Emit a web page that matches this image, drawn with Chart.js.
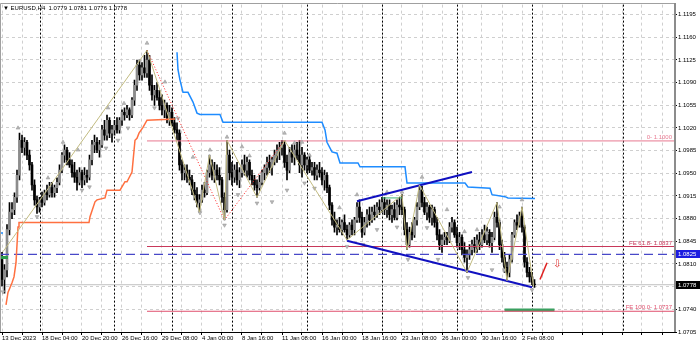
<!DOCTYPE html>
<html>
<head>
<meta charset="utf-8">
<script src="https://cdn.jsdelivr.net/npm/chart.js@4.4.1/dist/chart.umd.min.js"></script>
<style>
  html, body { margin: 0; padding: 0; background: #fff; }
  canvas { display: block; }
</style>
</head>
<body>
<canvas id="chart" width="700" height="343"></canvas>
<script>
// EURUSD H4, one entry per bar (bar index 0 = 13 Dec 2023 12:00)
const opens = [
  1.0817,1.0786,1.0801,1.0863,1.0890,1.0894,1.0913,1.0947,1.1001,1.0990,
  1.0998,1.0978,1.0963,1.0932,1.0909,1.0898,1.0909,1.0905,1.0920,1.0917,
  1.0928,1.0920,1.0928,1.0936,1.0955,1.0978,1.0986,1.0971,1.0963,1.0951,
  1.0944,1.0936,1.0951,1.0940,1.0947,1.0944,1.0971,1.0994,1.0998,1.0986,
  1.0994,1.1017,1.1009,1.1032,1.1012,1.1017,1.1024,1.1017,1.1032,1.1044,
  1.1040,1.1048,1.1040,1.1063,1.1086,1.1117,1.1102,1.1113,1.1105,1.1125,
  1.1086,1.1071,1.1078,1.1067,1.1055,1.1048,1.1055,1.1036,1.1044,1.1028,
  1.1017,1.1012,1.0963,1.0951,1.0955,1.0944,1.0940,1.0924,1.0917,1.0905,
  1.0909,1.0924,1.0920,1.0951,1.0963,1.0947,1.0955,1.0947,1.0940,1.0913,
  1.0894,1.0978,1.0951,1.0944,1.0955,1.0940,1.0951,1.0963,1.0955,1.0967,
  1.0947,1.0940,1.0932,1.0928,1.0936,1.0951,1.0959,1.0967,1.0959,1.0971,
  1.0978,1.0986,1.0990,1.0994,1.0967,1.0955,1.0982,1.0975,1.0986,1.0978,
  1.0963,1.0978,1.0963,1.0971,1.0955,1.0959,1.0947,1.0955,1.0951,1.0940,
  1.0947,1.0928,1.0901,1.0878,1.0867,1.0870,1.0863,1.0874,1.0863,1.0855,
  1.0870,1.0863,1.0878,1.0898,1.0882,1.0859,1.0874,1.0886,1.0878,1.0890,
  1.0886,1.0898,1.0894,1.0905,1.0894,1.0901,1.0886,1.0894,1.0882,1.0901,
  1.0898,1.0894,1.0863,1.0840,1.0859,1.0855,1.0878,1.0898,1.0924,1.0905,
  1.0890,1.0898,1.0882,1.0894,1.0874,1.0855,1.0840,1.0847,1.0851,1.0847,
  1.0867,1.0874,1.0855,1.0843,1.0851,1.0832,1.0820,1.0824,1.0832,1.0840,
  1.0836,1.0847,1.0840,1.0855,1.0847,1.0859,1.0843,1.0851,1.0882,1.0874,
  1.0840,1.0820,1.0805,1.0797,1.0817,1.0855,1.0874,1.0870,1.0884,1.0867,
  1.0813,1.0797,1.0790,1.0779
];
const highs = [
  1.0828,1.0809,1.0871,1.0905,1.0905,1.0920,1.0955,1.1012,1.1009,1.1005,
  1.1001,1.0986,1.0967,1.0940,1.0915,1.0913,1.0921,1.0924,1.0932,1.0936,
  1.0936,1.0932,1.0943,1.0963,1.0982,1.0994,1.0990,1.0982,1.0971,1.0967,
  1.0955,1.0959,1.0955,1.0959,1.0955,1.0978,1.1001,1.1009,1.1005,1.1001,
  1.1024,1.1032,1.1040,1.1036,1.1024,1.1032,1.1036,1.1036,1.1048,1.1051,
  1.1055,1.1051,1.1067,1.1094,1.1125,1.1125,1.1121,1.1132,1.1140,1.1132,
  1.1102,1.1086,1.1090,1.1078,1.1071,1.1063,1.1059,1.1055,1.1051,1.1036,
  1.1028,1.1017,1.0971,1.0963,1.0963,1.0955,1.0947,1.0936,1.0928,1.0917,
  1.0932,1.0936,1.0955,1.0978,1.0971,1.0967,1.0963,1.0959,1.0944,1.0920,
  1.1001,1.0986,1.0967,1.0963,1.0967,1.0959,1.0971,1.0978,1.0975,1.0971,
  1.0955,1.0947,1.0940,1.0947,1.0955,1.0963,1.0975,1.0978,1.0975,1.0986,
  1.0994,1.0998,1.1001,1.1001,1.0978,1.0990,1.0994,1.0994,1.0998,1.1001,
  1.0990,1.0982,1.0975,1.0978,1.0967,1.0967,1.0963,1.0967,1.0959,1.0955,
  1.0951,1.0932,1.0905,1.0890,1.0878,1.0882,1.0878,1.0886,1.0870,1.0874,
  1.0878,1.0882,1.0905,1.0909,1.0890,1.0882,1.0894,1.0898,1.0898,1.0901,
  1.0905,1.0909,1.0913,1.0913,1.0909,1.0909,1.0901,1.0905,1.0909,1.0913,
  1.0917,1.0898,1.0874,1.0867,1.0874,1.0882,1.0905,1.0932,1.0930,1.0913,
  1.0905,1.0901,1.0901,1.0898,1.0882,1.0863,1.0855,1.0859,1.0859,1.0874,
  1.0882,1.0878,1.0867,1.0859,1.0855,1.0843,1.0832,1.0840,1.0847,1.0851,
  1.0855,1.0859,1.0863,1.0870,1.0867,1.0863,1.0859,1.0890,1.0905,1.0878,
  1.0847,1.0828,1.0813,1.0824,1.0859,1.0878,1.0886,1.0890,1.0898,1.0870,
  1.0820,1.0805,1.0797,1.0786
];
const lows = [
  1.0776,1.0765,1.0790,1.0855,1.0880,1.0886,1.0905,1.0940,1.0982,1.0978,
  1.0971,1.0955,1.0924,1.0901,1.0888,1.0890,1.0898,1.0901,1.0909,1.0913,
  1.0913,1.0913,1.0920,1.0932,1.0951,1.0967,1.0963,1.0959,1.0944,1.0936,
  1.0924,1.0932,1.0928,1.0932,1.0936,1.0940,1.0963,1.0982,1.0982,1.0975,
  1.0990,1.1001,1.1001,1.1005,1.0998,1.1009,1.1012,1.1012,1.1024,1.1032,
  1.1036,1.1032,1.1036,1.1055,1.1078,1.1094,1.1094,1.1098,1.1098,1.1078,
  1.1063,1.1055,1.1063,1.1048,1.1040,1.1036,1.1028,1.1024,1.1024,1.1012,
  1.1001,1.0955,1.0940,1.0940,1.0936,1.0932,1.0917,1.0909,1.0898,1.0890,
  1.0905,1.0913,1.0917,1.0944,1.0940,1.0936,1.0940,1.0932,1.0905,1.0878,
  1.0890,1.0940,1.0932,1.0936,1.0932,1.0928,1.0944,1.0947,1.0944,1.0940,
  1.0932,1.0924,1.0913,1.0924,1.0932,1.0940,1.0947,1.0951,1.0947,1.0963,
  1.0967,1.0971,1.0978,1.0959,1.0940,1.0951,1.0967,1.0963,1.0971,1.0951,
  1.0944,1.0955,1.0951,1.0951,1.0947,1.0940,1.0940,1.0944,1.0932,1.0924,
  1.0920,1.0894,1.0870,1.0859,1.0855,1.0859,1.0855,1.0859,1.0847,1.0851,
  1.0855,1.0855,1.0874,1.0874,1.0851,1.0855,1.0867,1.0870,1.0874,1.0878,
  1.0882,1.0886,1.0890,1.0886,1.0882,1.0878,1.0874,1.0878,1.0878,1.0886,
  1.0886,1.0855,1.0832,1.0836,1.0847,1.0851,1.0870,1.0894,1.0898,1.0886,
  1.0878,1.0874,1.0870,1.0867,1.0847,1.0832,1.0828,1.0840,1.0840,1.0843,
  1.0859,1.0851,1.0836,1.0832,1.0824,1.0813,1.0797,1.0817,1.0824,1.0828,
  1.0828,1.0832,1.0836,1.0843,1.0840,1.0836,1.0828,1.0847,1.0867,1.0832,
  1.0813,1.0797,1.0784,1.0790,1.0813,1.0851,1.0863,1.0867,1.0859,1.0805,
  1.0790,1.0782,1.0778,1.0774
];
const closes = [
  1.0786,1.0801,1.0863,1.0890,1.0894,1.0913,1.0947,1.1001,1.0990,1.0998,
  1.0978,1.0963,1.0932,1.0909,1.0898,1.0909,1.0905,1.0920,1.0917,1.0928,
  1.0920,1.0928,1.0936,1.0955,1.0978,1.0986,1.0971,1.0963,1.0951,1.0944,
  1.0936,1.0951,1.0940,1.0947,1.0944,1.0971,1.0994,1.0998,1.0986,1.0994,
  1.1017,1.1009,1.1032,1.1012,1.1017,1.1024,1.1017,1.1032,1.1044,1.1040,
  1.1048,1.1040,1.1063,1.1086,1.1117,1.1102,1.1113,1.1105,1.1125,1.1086,
  1.1071,1.1078,1.1067,1.1055,1.1048,1.1055,1.1036,1.1044,1.1028,1.1017,
  1.1012,1.0963,1.0951,1.0955,1.0944,1.0940,1.0924,1.0917,1.0905,1.0909,
  1.0924,1.0920,1.0951,1.0963,1.0947,1.0955,1.0947,1.0940,1.0913,1.0894,
  1.0978,1.0951,1.0944,1.0955,1.0940,1.0951,1.0963,1.0955,1.0967,1.0947,
  1.0940,1.0932,1.0928,1.0936,1.0951,1.0959,1.0967,1.0959,1.0971,1.0978,
  1.0986,1.0990,1.0994,1.0967,1.0955,1.0982,1.0975,1.0986,1.0978,1.0963,
  1.0978,1.0963,1.0971,1.0955,1.0959,1.0947,1.0955,1.0951,1.0940,1.0947,
  1.0928,1.0901,1.0878,1.0867,1.0870,1.0863,1.0874,1.0863,1.0855,1.0870,
  1.0863,1.0878,1.0898,1.0882,1.0859,1.0874,1.0886,1.0878,1.0890,1.0886,
  1.0898,1.0894,1.0905,1.0894,1.0901,1.0886,1.0894,1.0882,1.0901,1.0898,
  1.0894,1.0863,1.0840,1.0859,1.0855,1.0878,1.0898,1.0924,1.0905,1.0890,
  1.0898,1.0882,1.0894,1.0874,1.0855,1.0840,1.0847,1.0851,1.0847,1.0867,
  1.0874,1.0855,1.0843,1.0851,1.0832,1.0820,1.0824,1.0832,1.0840,1.0836,
  1.0847,1.0840,1.0855,1.0847,1.0859,1.0843,1.0851,1.0882,1.0874,1.0840,
  1.0820,1.0805,1.0797,1.0817,1.0855,1.0874,1.0870,1.0884,1.0867,1.0813,
  1.0797,1.0790,1.0782,1.0778
];

// price axis and time axis
const yTicks = [1.0705,1.0740,1.0775,1.0810,1.0845,1.0880,1.0915,1.0950,1.0985,1.1020,1.1055,1.1090,1.1125,1.1160,1.1195];
const xLabelIdx = [0,16,32,48,64,80,96,112,128,144,160,176,192,208];
const xLabelText = ['13 Dec 2023','18 Dec 04:00','20 Dec 20:00','26 Dec 16:00','29 Dec 08:00','4 Jan 00:00','8 Jan 16:00',
  '11 Jan 08:00','16 Jan 00:00','18 Jan 16:00','23 Jan 08:00','26 Jan 00:00','30 Jan 16:00','2 Feb 08:00'];
const gridIdx = [0,8,16,24,32,40,48,56,64,72,80,88,96,104,112,120,128,136,144,152,160,168,176,184,192,200,208,216,224,232,240,248,256,264];
const weekStarts = [15,45,68,92,122,152,182,212,248.4];

// indicator lines (bar index, price)
const orangeIdx = [1.6,2.4,4,4.8,5.6,6.4,6.8,34.8,35.2,37.2,38,41.2,42,47.2,49.2,50,52,53.2,54,54.8,56.4,58,69.2];
const orangeVal = [1.0747,1.0766,1.0781,1.0790,1.0812,1.0867,1.0874,1.0874,1.0883,1.0906,1.0909,1.0912,1.0924,1.0924,1.0937,1.0937,1.0952,1.1001,1.1004,1.1012,1.1021,1.1032,1.1034];
const blueIdx = [70,70.4,71.2,72.4,74.4,76.4,78,79.2,87.2,88.4,128,129.2,130,132,134,135.2,142.4,143.2,161.2,162,185.2,186.4,195.2,196,201.2,202.4,213.2];
const blueVal = [1.1137,1.1110,1.1094,1.1075,1.1075,1.1060,1.1043,1.1041,1.1041,1.1029,1.1029,1.1017,1.0998,1.0983,1.0981,1.0966,1.0966,1.0960,1.0960,1.0935,1.0935,1.0929,1.0927,1.0917,1.0914,1.0912,1.0911];
const zigIdx = [0.4,58,79,83,89,90,102,113,138,160,162,167,186,198,202,208,212.6];
const zigVal = [1.0829,1.1140,1.0890,1.0978,1.0878,1.1001,1.0913,1.1001,1.0847,1.0917,1.0832,1.0932,1.0797,1.0905,1.0784,1.0898,1.0776];
const redZigIdx = [58,89,113];
const redZigVal = [1.1140,1.0878,1.1001];
const chanUpIdx = [142,188], chanUpVal = [1.0907,1.0952];
const chanLoIdx = [138,212], chanLoVal = [1.0846,1.0774];

// fractal arrows
const upFracIdx = [6.4,18.4,24.4,30.4,42.4,48.8,58,65.2,76.4,83.2,90,96,99,113,117,120,123,135,142,154,160,168,178,185,190,194,199,208];
const upFracVal = [1.1020,1.0943,1.0998,1.0986,1.1051,1.1058,1.1151,1.1091,1.0975,1.0986,1.1006,1.0991,1.0977,1.1012,1.0997,1.0998,1.0978,1.0897,1.0917,1.0921,1.0921,1.0944,1.0894,1.0860,1.0863,1.0858,1.0898,1.0909];
const dnFracIdx = [0.4,14,32,35,41.6,46.4,50.4,61,70.4,79.2,89,94.4,102,108,114,121,125,138,144.4,150,158,162.4,170,174.4,186.4,196,201,212];
const dnFracVal = [1.0767,1.0883,1.0924,1.0929,1.0989,1.1001,1.1020,1.1051,1.1035,1.0889,1.0870,1.0917,1.0904,1.0906,1.0924,1.0935,1.0927,1.0837,1.0840,1.0863,1.0867,1.0817,1.0866,1.0817,1.0789,1.0801,1.0801,1.0770];

// horizontal levels
const levelNames = ['0- 1.1000','FE 61.8- 1.0837','FE 100.0- 1.0737'];
const levelValues = [1.1000, 1.0837, 1.0737];
const levelColors = ['#e87890', '#c8385a', '#e0506e'];
const levelStart = 58;
const markedLevel = 1.0825;
const lastPrice = 1.0778;

const X_MIN = -0.8, X_MAX = 268.8;
const FONT = "'Liberation Sans', Arial, sans-serif";

function pts(xs, ys) {
  return xs.map((v, k) => ({ x: v, y: ys[k] }));
}

function lineSet(data, color, width, extra) {
  return Object.assign({
    type: 'line', data: data, borderColor: color, borderWidth: width,
    pointRadius: 0, pointHoverRadius: 0, tension: 0, fill: false, order: 2
  }, extra || {});
}

const wicks = opens.map((o, i) => ({ x: i, y: [lows[i], highs[i]] }));
const bodies = opens.map((o, i) => ({ x: i, y: [o, closes[i]] }));
const bodyColors = opens.map((o, i) => closes[i] >= o ? '#8c8c8c' : '#000000');

const extras = {
  id: 'extras',
  beforeDatasetsDraw(chart) {
    const { ctx, chartArea: a, scales: { x } } = chart;
    ctx.save();
    ctx.strokeStyle = '#000';
    ctx.lineWidth = 1;
    ctx.setLineDash([2, 2]);
    weekStarts.forEach(i => {
      const px = Math.round(x.getPixelForValue(i)) + 0.5;
      ctx.beginPath();
      ctx.moveTo(px, a.top);
      ctx.lineTo(px, a.bottom);
      ctx.stroke();
    });
    ctx.restore();
  },
  afterDraw(chart) {
    const { ctx, chartArea: a, scales: { x, y } } = chart;
    ctx.save();
    ctx.font = '6px ' + FONT;

    // level captions
    ctx.textAlign = 'right';
    levelValues.forEach((v, k) => {
      ctx.fillStyle = levelColors[k];
      ctx.fillText(levelNames[k], a.right - 2, y.getPixelForValue(v) - 2);
    });

    // symbol line
    ctx.textAlign = 'left';
    ctx.fillStyle = '#000';
    ctx.fillText('\u25BC EURUSD,H4  1.0779 1.0781 1.0776 1.0778', 3, 10);

    // red hollow arrow
    ctx.fillStyle = '#e03030';
    ctx.font = '10px "DejaVu Sans"';
    ctx.fillText('\u21E9', x.getPixelForValue(220.4), y.getPixelForValue(1.0812) + 4);

    // frame
    ctx.strokeStyle = '#a0a0a0';
    ctx.lineWidth = 1;
    ctx.beginPath();
    ctx.moveTo(0.5, a.bottom);
    ctx.lineTo(0.5, 3.5);
    ctx.lineTo(a.right, 3.5);
    ctx.stroke();
    ctx.strokeStyle = '#8c8c8c';
    ctx.lineWidth = 2;
    ctx.beginPath();
    ctx.moveTo(a.right + 1, 3);
    ctx.lineTo(a.right + 1, a.bottom);
    ctx.stroke();

    // price boxes on the axis
    ctx.font = '6px ' + FONT;
    ctx.textBaseline = 'middle';
    [[markedLevel, '#1c1ce0'], [lastPrice, '#000']].forEach(([v, c]) => {
      const py = Math.round(y.getPixelForValue(v));
      ctx.fillStyle = c;
      ctx.fillRect(a.right + 2, py - 4, 26, 8);
      ctx.fillStyle = '#fff';
      ctx.fillText(v.toFixed(4), a.right + 4, py + 0.5);
    });
    ctx.restore();
  }
};

new Chart(document.getElementById('chart'), {
  type: 'bar',
  data: {
    datasets: [
      { type: 'bar', data: wicks, backgroundColor: '#000', barThickness: 1, grouped: false, order: 20 },
      { type: 'bar', data: bodies, backgroundColor: bodyColors, barThickness: 2, grouped: false, order: 19 },
      lineSet(pts(orangeIdx, orangeVal), '#ff7040', 1.5),
      lineSet(pts(blueIdx, blueVal), '#1e8cff', 1.5),
      lineSet(pts([X_MIN, 0.4], [1.0858, 1.0858]), '#1e8cff', 1.5),
      lineSet(pts([levelStart, X_MAX], [levelValues[0], levelValues[0]]), levelColors[0], 1),
      lineSet(pts([levelStart, X_MAX], [levelValues[1], levelValues[1]]), levelColors[1], 1),
      lineSet(pts([levelStart, X_MAX], [levelValues[2], levelValues[2]]), levelColors[2], 1),
      lineSet(pts([X_MIN, X_MAX], [markedLevel, markedLevel]), '#4848c8', 1.2, { borderDash: [9, 5] }),
      lineSet(pts([X_MIN, X_MAX], [lastPrice, lastPrice]), '#c0c0c0', 1, { order: 21 }),
      lineSet(pts([X_MIN, 2.4], [1.0820, 1.0820]), '#2e9e4e', 3),
      lineSet(pts([201, 221], [1.0739, 1.0739]), '#3aa060', 3),
      lineSet(pts([152, 160], [1.0912, 1.0912]), '#3cb371', 1),
      lineSet(pts(zigIdx, zigVal), '#c2bb80', 1, { order: 1 }),
      lineSet(pts(redZigIdx, redZigVal), '#ff2020', 1, { borderDash: [1, 2], order: 1 }),
      lineSet(pts(chanUpIdx, chanUpVal), '#1010c0', 2, { order: 1 }),
      lineSet(pts(chanLoIdx, chanLoVal), '#1010c0', 2, { order: 1 }),
      lineSet(pts([215.2, 218], [1.0786, 1.0812]), '#e02020', 1.5, { order: 1 }),
      lineSet(pts(upFracIdx, upFracVal), '#a0a0a0', 0, {
        showLine: false, pointRadius: 2.2, pointHoverRadius: 2.2, pointStyle: 'triangle', pointBackgroundColor: '#b8b8b8',
        pointBorderColor: '#909090', pointBorderWidth: 0.5, order: 1 }),
      lineSet(pts(dnFracIdx, dnFracVal), '#a0a0a0', 0, {
        showLine: false, pointRadius: 2.2, pointHoverRadius: 2.2, pointStyle: 'triangle', pointRotation: 180, pointBackgroundColor: '#b8b8b8',
        pointBorderColor: '#909090', pointBorderWidth: 0.5, order: 1 })
    ]
  },
  options: {
    responsive: false,
    animation: false,
    events: [],
    layout: { autoPadding: false, padding: { top: 4, left: 0, right: 0, bottom: 0 } },
    plugins: { legend: { display: false }, tooltip: { enabled: false } },
    scales: {
      x: {
        type: 'linear', min: X_MIN, max: X_MAX, offset: false,
        grid: { offset: false, color: '#cfcfcf', tickLength: 3, tickColor: '#000' },
        border: { display: true, color: '#000', dash: [3, 3] },
        afterBuildTicks: ax => { ax.ticks = gridIdx.map(v => ({ value: v })); },
        afterFit: ax => { ax.height = 11; ax.paddingLeft = 0; ax.paddingRight = 0; },
        ticks: {
          autoSkip: false, maxRotation: 0, minRotation: 0, align: 'start', padding: 0,
          color: '#000', font: { family: FONT, size: 6 },
          callback: v => { const k = xLabelIdx.indexOf(v); return k >= 0 ? xLabelText[k] : ''; }
        }
      },
      y: {
        position: 'right', min: 1.0705, max: 1.12105, beginAtZero: false,
        grid: { color: '#cfcfcf', tickLength: 3, tickColor: '#000' },
        border: { display: false, dash: [3, 3] },
        afterBuildTicks: ax => { ax.ticks = yTicks.map(v => ({ value: v })); },
        afterFit: ax => { ax.width = 26; },
        ticks: {
          padding: 1, color: '#000', font: { family: FONT, size: 6 },
          callback: v => v.toFixed(4)
        }
      }
    }
  },
  plugins: [extras]
});
</script>
</body>
</html>
